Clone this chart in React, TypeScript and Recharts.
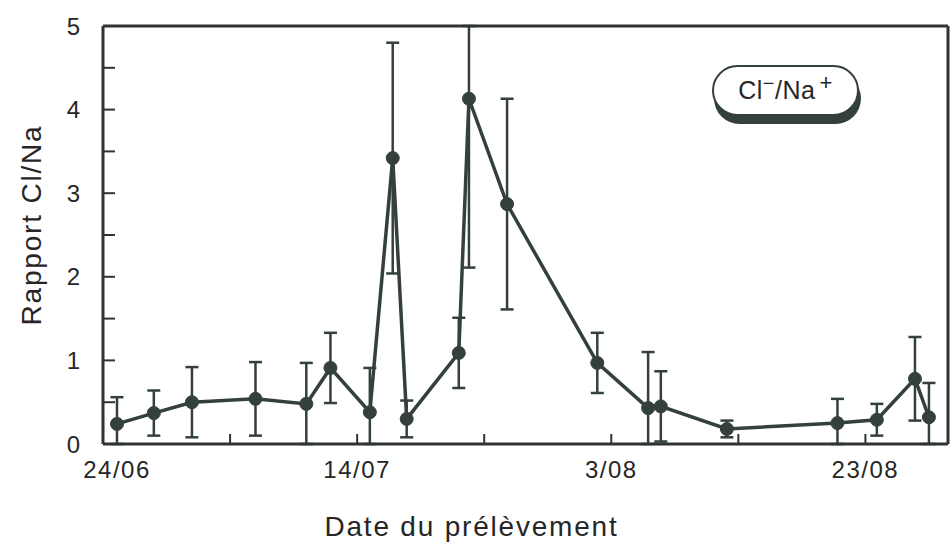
/*
 * Rapport Cl/Na vs date du prélèvement — recharts line with error bars.
 * Days are counted from 24/06 (day 0). Boxed frame with inward ticks on all sides.
 */
import React from 'react';
import { LineChart, Line, XAxis, YAxis, ErrorBar } from 'recharts';

const DATE_TICKS = [0, 10, 20, 30, 40, 50, 60];
const DATE_LABELS: Record<number, string> = { 0: '24/06', 20: '14/07', 40: '3/08', 60: '23/08' };
const RATIO_TICKS = [0, 0.5, 1, 1.5, 2, 2.5, 3, 3.5, 4, 4.5, 5];
const Y_MIN = 0;
const Y_MAX = 5;

// sampling day (days after 24/06), ratio Cl/Na, error (±)
const days = [1.1, 4, 7, 12, 16, 17.9, 21, 22.8, 23.9, 28, 28.8, 31.8, 38.9, 42.9, 43.9, 49.1, 57.8, 60.9, 63.9, 65];
const ratio = [0.24, 0.37, 0.5, 0.54, 0.48, 0.91, 0.38, 3.42, 0.3, 1.09, 4.13, 2.87, 0.97, 0.43, 0.45, 0.18, 0.25, 0.29, 0.78, 0.32];
const ratioErr = [0.32, 0.27, 0.42, 0.44, 0.49, 0.42, 0.53, 1.38, 0.22, 0.42, 2.02, 1.26, 0.36, 0.67, 0.42, 0.1, 0.29, 0.19, 0.5, 0.41];

// error bars are cut at the frame, like the original plot
const data = days.map((d, i) => ({
  day: d,
  ratio: ratio[i],
  err: [Math.min(ratioErr[i], ratio[i] - Y_MIN), Math.min(ratioErr[i], Y_MAX - ratio[i])],
}));

const INK = '#34403e';
const AXIS = '#2f3332';
const TXT = '#262626';
const FONT = '"Liberation Sans", Arial, Helvetica, sans-serif';

function DateTick(props: any) {
  const { x, y, payload } = props;
  const label = DATE_LABELS[payload.value];
  if (!label) return null;
  // first label sits a bit right of the frame corner
  const shift = payload.value === 0 ? 14 : 0;
  return (
    <text x={x + shift} y={y} dy="0.71em" textAnchor="middle" fontSize={24} fill={TXT} letterSpacing={1.5}>
      {label}
    </text>
  );
}

const xTitle = (p: any) => {
  const vb = p.viewBox;
  return (
    <text x={vb.x + vb.width / 2 - 54} y={vb.y + vb.height - 6} textAnchor="middle" fontSize={28} fill={TXT} letterSpacing={1.8}>
      Date du prélèvement
    </text>
  );
};

const yTitle = (p: any) => {
  const vb = p.viewBox;
  const cx = 41;
  const cy = vb.y + vb.height / 2 - 10;
  return (
    <text x={cx} y={cy} transform={`rotate(-90 ${cx} ${cy})`} textAnchor="middle" fontSize={28} fill={TXT} letterSpacing={1.8}>
      Rapport Cl/Na
    </text>
  );
};

export default function App() {
  return (
    <div style={{ position: 'absolute', left: 0, top: 0, width: 950, height: 542, background: '#fff', fontFamily: FONT }}>
      <LineChart width={950} height={542} data={data} margin={{ top: 0, right: 0, bottom: 0, left: 0 }}>
        <XAxis
          xAxisId="bottom"
          dataKey="day"
          type="number"
          domain={[0, 66.5]}
          ticks={DATE_TICKS}
          allowDataOverflow
          height={98}
          axisLine={{ stroke: AXIS, strokeWidth: 3 }}
          tickLine={{ stroke: AXIS, strokeWidth: 2 }}
          tickSize={-10}
          tickMargin={27}
          tick={<DateTick />}
          interval={0}
          label={xTitle}
        />
        <XAxis
          xAxisId="top"
          orientation="top"
          dataKey="day"
          type="number"
          domain={[0, 66.5]}
          ticks={DATE_TICKS}
          allowDataOverflow
          height={26}
          axisLine={{ stroke: AXIS, strokeWidth: 3 }}
          tickLine={{ stroke: AXIS, strokeWidth: 2 }}
          tickSize={-8}
          tick={false}
          interval={0}
        />
        <YAxis
          yAxisId="left"
          type="number"
          domain={[Y_MIN, Y_MAX]}
          ticks={RATIO_TICKS}
          allowDataOverflow
          width={103}
          axisLine={{ stroke: AXIS, strokeWidth: 3 }}
          tickLine={{ stroke: AXIS, strokeWidth: 2 }}
          tickSize={-12}
          tickMargin={35}
          interval={0}
          tick={{ fontSize: 24, fill: TXT }}
          tickFormatter={(v: number) => (Number.isInteger(v) ? String(v) : '')}
          label={yTitle}
        />
        <YAxis
          yAxisId="right"
          orientation="right"
          type="number"
          domain={[Y_MIN, Y_MAX]}
          ticks={RATIO_TICKS}
          allowDataOverflow
          width={2}
          axisLine={{ stroke: AXIS, strokeWidth: 3 }}
          tickLine={{ stroke: AXIS, strokeWidth: 2 }}
          tickSize={-8}
          tick={false}
          interval={0}
        />
        {/* invisible twin so the top/right frame axes get their scales */}
        <Line
          xAxisId="top"
          yAxisId="right"
          dataKey="ratio"
          stroke="none"
          dot={false}
          activeDot={false}
          legendType="none"
          isAnimationActive={false}
        />
        <Line
          xAxisId="bottom"
          yAxisId="left"
          type="linear"
          dataKey="ratio"
          stroke={INK}
          strokeWidth={3.5}
          dot={{ r: 6.5, fill: INK, stroke: INK, strokeWidth: 1 }}
          activeDot={false}
          isAnimationActive={false}
        >
          <ErrorBar dataKey="err" direction="y" width={6.5} stroke={INK} strokeWidth={2.5} isAnimationActive={false} />
        </Line>
      </LineChart>
      <div
        style={{
          position: 'absolute',
          left: 712,
          top: 65,
          width: 147,
          height: 51,
          boxSizing: 'border-box',
          border: `2px solid ${INK}`,
          borderRadius: 26,
          background: '#fff',
          boxShadow: `2px 8px 0 0 ${INK}`,
          color: TXT,
          fontSize: 25,
          lineHeight: '47px',
          textAlign: 'center',
          letterSpacing: 0.5,
        }}
      >
        Cl<sup style={{ fontSize: 20, lineHeight: 0 }}>−</sup>/Na<span style={{ marginLeft: 4 }} />
        <sup style={{ fontSize: 22, lineHeight: 0 }}>+</sup>
      </div>
    </div>
  );
}
